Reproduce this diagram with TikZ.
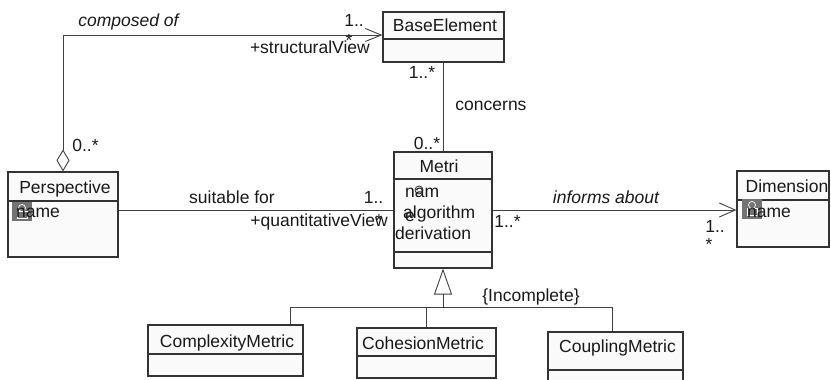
\documentclass[tikz,border=0pt]{standalone}
\usepackage{fontspec}
\setmainfont{Liberation Sans}
\usetikzlibrary{arrows.meta}
\begin{document}
\begin{tikzpicture}[x=1pt,y=-1pt,
  every node/.style={font=\fontsize{17.5}{21}\selectfont, inner sep=0pt, text=black!90},
  itl/.style={font=\fontsize{17.5}{21}\selectfont\itshape},
  classbox/.style={draw=black!80, fill=black!2, line width=1.1pt, rectangle, inner sep=0pt},
  divider/.style={draw=black!80, line width=1.1pt},
  conn/.style={draw=black!75, line width=0.9pt},
  lbl/.style={anchor=base},
  attr/.style={anchor=base west},
  icon/.style={fill=black!55},
  glyph/.style={draw=white, line width=0.7pt}
]
\fill[white] (0,0) rectangle (831,380);
\clip (0,0) rectangle (831,380);

% ---- class boxes ----
\node[classbox, minimum width=121pt, minimum height=50pt] (base) at (443.5,37) {};
\draw[divider] (383,39) -- (504,39);
\node[lbl] (baset) at (445,31) {BaseElement};

\node[classbox, minimum width=110pt, minimum height=85pt] (persp) at (63,214.5) {};
\draw[divider] (8,201) -- (118,201);
\node[lbl] (perspt) at (65,193) {Perspective};
\fill[icon] (12,202) rectangle (32,221);
\draw[glyph] (22,208) circle[radius=3.5pt];
\draw[glyph] (17,211) rectangle (27,218);
\node[attr] (perspa) at (16,217) {name};

\node[classbox, minimum width=98pt, minimum height=116pt] (metri) at (443,210) {};
\draw[divider] (394,179) -- (492,179);
\draw[divider] (394,252) -- (492,252);
\node[lbl] (metrit) at (439,172) {Metri};
\node[attr] (metria) at (405,197) {nam};
\draw[black!85, line width=0.8pt] (419,190) circle[radius=4pt];
\node[attr] (metrib) at (403,218) {algorithm};
\node[attr] (metrie) at (405,221) {e};
\node[attr] (metric) at (395,239) {derivation};

\node[classbox, minimum width=92pt, minimum height=76pt] (dim) at (783,209) {};
\draw[divider] (737,200) -- (829,200);
\node[lbl] (dimt) at (787,192) {Dimension};
\fill[icon] (742,199) rectangle (762,219);
\draw[glyph] (752,205) circle[radius=3.5pt];
\draw[glyph] (747,208) rectangle (757,215);
\node[attr] (dima) at (747,217) {name};

\node[classbox, minimum width=155pt, minimum height=51pt] (comp) at (225.5,350.5) {};
\draw[divider] (148,354) -- (303,354);
\node[lbl] (compt) at (227,347) {ComplexityMetric};

\node[classbox, minimum width=139pt, minimum height=50pt] (coh) at (426.5,353) {};
\draw[divider] (357,356) -- (496,356);
\node[lbl] (coht) at (423,349) {CohesionMetric};

\node[classbox, minimum width=135pt, minimum height=60pt] (coup) at (615.5,362) {};
\draw[divider] (548,370) -- (683,370);
\node[lbl] (coupt) at (617.5,352) {CouplingMetric};

% ---- connectors ----
\draw[conn, {Diamond[open, length=22pt, width=13pt]}-{Straight Barb[length=16pt, width=13pt]}]
  (persp.north) |- ([yshift=2pt]base.west);
\draw[conn] (metri.north) -- (metri.north |- base.south);
\draw[conn] (persp.east |- metri.west) -- (metri.west);
\draw[conn, -{Straight Barb[length=16pt, width=14pt]}] (metri.east) -- (dim.west |- metri.east);

\coordinate (gl) at (290,307);
\coordinate (gr) at (612,307);
\coordinate (gc) at (443,307);
\draw[conn] (gl |- comp.north) -- (gl) -- (gr) -- (gr |- coup.north);
\draw[conn] (coh.north) -- (coh.north |- gl);
\draw[conn, -{Triangle[open, length=26pt, width=18pt]}] (gc) -- (metri.south);

% ---- labels ----
\node[lbl, itl] (lcomp) at (128.5,27) {composed of};
\node[lbl] (m1) at (354,27) {1..};
\node[lbl] (m1s) at (349,46) {*};
\node[anchor=base east] (rv1) at (370,53) {+structuralView};
\node[lbl] (m2) at (422,78) {1..*};
\node[lbl] (lconc) at (491,110) {concerns};
\node[lbl] (m3) at (427,149) {0..*};
\node[lbl] (m4) at (85.5,151) {0..*};
\node[lbl] (lsuit) at (232,203) {suitable for};
\node[lbl] (m5) at (373.5,203) {1..};
\node[anchor=base east] (rv2) at (388,226) {+quantitativeView};
\node[lbl] (m5s) at (379,226) {*};
\node[lbl, itl] (linf) at (606,203) {informs about};
\node[lbl] (m6) at (507.5,227) {1..*};
\node[lbl] (m7) at (715,232) {1..};
\node[lbl] (m7s) at (709,250) {*};
\node[lbl] (linc) at (531,301) {\{Incomplete\}};
\end{tikzpicture}
\end{document}
